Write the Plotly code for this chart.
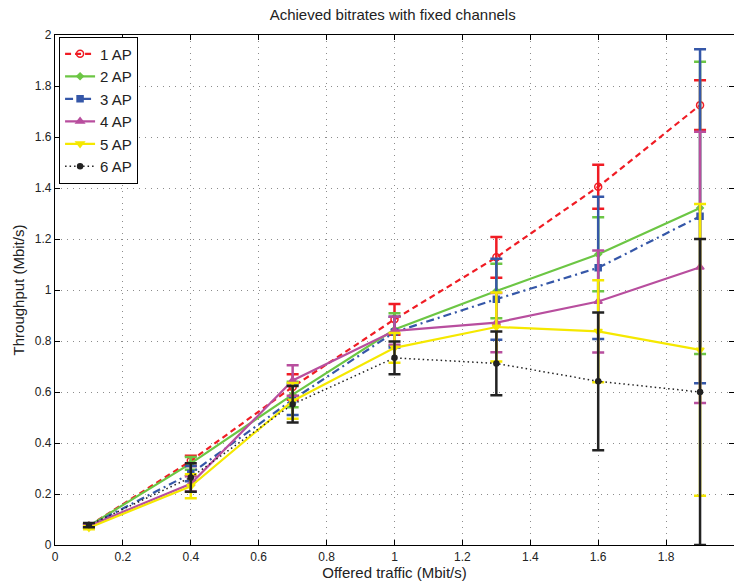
import plotly.graph_objects as go

# Offered traffic (Mbit/s)
offered = [0.1, 0.4, 0.7, 1.0, 1.3, 1.6, 1.9]

# Mean throughput per number of access points (Mbit/s)
ap1 = [0.075, 0.33, 0.62, 0.885, 1.128, 1.405, 1.725]
ap2 = [0.075, 0.32, 0.59, 0.845, 0.996, 1.14, 1.322]
ap3 = [0.075, 0.28, 0.57, 0.835, 0.964, 1.087, 1.289]
ap4 = [0.075, 0.24, 0.645, 0.84, 0.872, 0.955, 1.089]
ap5 = [0.068, 0.23, 0.565, 0.773, 0.855, 0.838, 0.765]
ap6 = [0.078, 0.265, 0.552, 0.734, 0.712, 0.642, 0.6]

# Error bar half-widths (Mbit/s)
err1 = [0.006, 0.02, 0.05, 0.06, 0.08, 0.086, 0.098]
err2 = [0.006, 0.025, 0.05, 0.064, 0.107, 0.145, 0.573]
err3 = [0.006, 0.03, 0.06, 0.06, 0.159, 0.279, 0.655]
err4 = [0.006, 0.03, 0.06, 0.055, 0.116, 0.2, 0.532]
err5 = [0.006, 0.047, 0.07, 0.058, 0.135, 0.2, 0.572]
err6 = [0.008, 0.056, 0.072, 0.064, 0.125, 0.27, 0.6]

names = ["1 AP", "2 AP", "3 AP", "4 AP", "5 AP", "6 AP"]
series = [ap1, ap2, ap3, ap4, ap5, ap6]
errors = [err1, err2, err3, err4, err5, err6]
colors = ["#f01c24", "#6cc644", "#3557a8", "#b84e9e", "#f5e800", "#222222"]
dashes = ["6px,4px", "solid", "8px,4px,2px,4px", "solid", "solid", "1.5px,3px"]
widths = [2.2, 2.2, 2.2, 2.2, 2.2, 1.5]
symbols = ["circle-open", "diamond", "square", "triangle-up", "triangle-down", "circle"]
msizes = [7, 5, 6, 7, 7, 5]

fig = go.Figure()
for name, ys, es, col, dash, lw, sym, ms in zip(names, series, errors, colors, dashes,
                                                 widths, symbols, msizes):
    fig.add_trace(go.Scatter(
        x=offered, y=ys, name=name, mode="lines+markers",
        line=dict(color=col, width=lw, dash=dash),
        marker=dict(symbol=sym, size=ms, color=col, line=dict(color=col, width=1.5)),
        error_y=dict(type="data", array=es, visible=True, color=col,
                     thickness=2.5, width=6),
    ))

axis_common = dict(
    showline=True, linecolor="black", linewidth=1.2, mirror="ticks",
    ticks="inside", ticklen=5, tickcolor="black",
    showgrid=True, gridcolor="#8c8c8c", gridwidth=1, griddash="1px,5px",
    zeroline=False, tickfont=dict(size=12, color="#222"),
)

ticks = [0, 0.2, 0.4, 0.6, 0.8, 1, 1.2, 1.4, 1.6, 1.8, 2]
tick_text = ["0", "0.2", "0.4", "0.6", "0.8", "1", "1.2", "1.4", "1.6", "1.8", "2"]

fig.update_layout(
    width=734, height=585,
    margin=dict(l=55, r=0, t=35, b=40),
    paper_bgcolor="white", plot_bgcolor="white",
    font=dict(family="Liberation Sans, Arial, sans-serif", color="#222"),
    title=dict(text="Achieved bitrates with fixed channels", x=0.535, xanchor="center",
               y=0.975, yanchor="middle", yref="container", font=dict(size=15)),
    xaxis=dict(range=[0, 2], tickvals=ticks, ticktext=tick_text,
               title=dict(text="Offered traffic (Mbit/s)", font=dict(size=15), standoff=4),
               **axis_common),
    yaxis=dict(range=[0, 2], tickvals=ticks, ticktext=tick_text,
               title=dict(text="Throughput (Mbit/s)", font=dict(size=15), standoff=6),
               **axis_common),
    legend=dict(x=0.006, y=0.997, xanchor="left", yanchor="top",
                bgcolor="white", bordercolor="black", borderwidth=1,
                font=dict(size=15), itemwidth=30, tracegroupgap=0),
    showlegend=True,
)

fig.write_html("out.html")
